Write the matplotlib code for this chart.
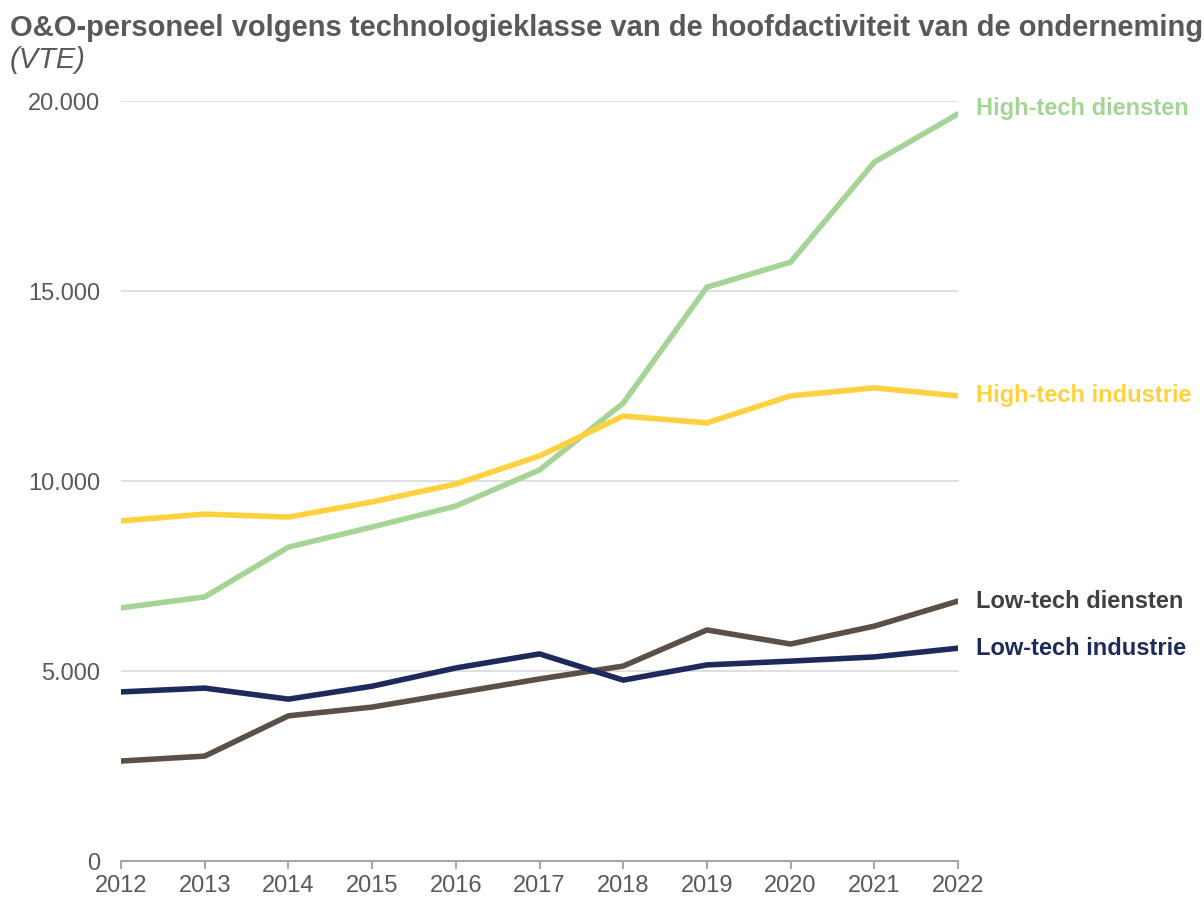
import matplotlib
matplotlib.use("Agg")
import matplotlib.pyplot as plt
from matplotlib.ticker import FuncFormatter

plt.rcParams['font.family'] = ['Liberation Sans', 'DejaVu Sans']

years = list(range(2012, 2023))
ht_diensten = [6660, 6950, 8260, 8790, 9340, 10290, 12050, 15100, 15760, 18390, 19660]
ht_industrie = [8950, 9130, 9050, 9450, 9920, 10660, 11710, 11530, 12240, 12450, 12240]
lt_diensten = [2630, 2760, 3820, 4050, 4420, 4790, 5130, 6080, 5710, 6180, 6840]
lt_industrie = [4450, 4550, 4260, 4600, 5080, 5450, 4760, 5160, 5260, 5370, 5600]

# name, values, line colour, label colour, label nudge (pt)
series = [
    ("High-tech diensten", ht_diensten, "#a6d496", "#a6d496", 4),
    ("High-tech industrie", ht_industrie, "#ffd13f", "#ffd13f", 0),
    ("Low-tech diensten", lt_diensten, "#5b5047", "#404040", 0),
    ("Low-tech industrie", lt_industrie, "#1f2a5c", "#1f2a5c", 0),
]

fig = plt.figure(figsize=(12.04, 9), dpi=100)
ax = fig.add_axes([121 / 1204, 1 - 861 / 900, (958 - 121) / 1204, (861 - 101) / 900])

for name, vals, col, tcol, dy in series:
    ax.plot(years, vals, color=col, lw=4, solid_capstyle='round', zorder=3)
    ax.annotate(name, xy=(years[-1], vals[-1]), xytext=(13, dy), textcoords='offset points',
                color=tcol, fontsize=17, fontweight='bold', va='center', ha='left',
                annotation_clip=False)

ax.set_xlim(2012, 2022)
ax.set_ylim(0, 20000)
ax.set_xticks(years)
ax.set_yticks([0, 5000, 10000, 15000, 20000])
ax.yaxis.set_major_formatter(FuncFormatter(lambda v, p: f"{int(v):,}".replace(",", ".")))
ax.grid(axis='y', color='#d9d9d9', lw=1.2)
ax.set_axisbelow(True)
for s in ['top', 'right', 'left']:
    ax.spines[s].set_visible(False)
ax.spines['bottom'].set_color('#a6a6a6')
ax.spines['bottom'].set_linewidth(1.5)
ax.tick_params(axis='y', length=0, pad=15, labelsize=17, labelcolor='#595959')
ax.tick_params(axis='x', length=6, width=1.5, color='#a6a6a6', pad=4, labelsize=17, labelcolor='#595959')

fig.text(10 / 1204, 1 - 28 / 900, "O&O-personeel volgens technologieklasse van de hoofdactiviteit van de onderneming",
         fontsize=21, fontweight='bold', color='#595959', va='center', ha='left')
fig.text(10 / 1204, 1 - 60 / 900, "(VTE)", fontsize=21, fontstyle='italic', color='#595959', va='center', ha='left')

fig.savefig("out.png", dpi=100)
